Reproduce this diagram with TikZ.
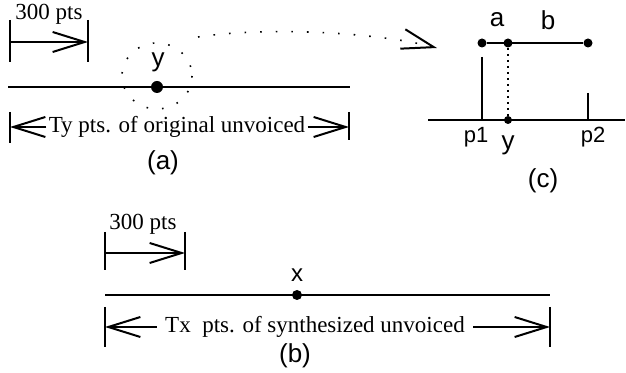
\documentclass[tikz,border=0pt]{standalone}
\usepackage{fontspec}
\setmainfont{Liberation Serif}
\newfontfamily\labfont{Liberation Sans}
\usetikzlibrary{arrows.meta}

\begin{document}
\begin{tikzpicture}[x=.5pt,y=-.5pt,line join=miter,
  barb/.style={-{Straight Barb[length=16pt,width=10pt,line width=1pt]},line width=1pt},
  axis/.style={line width=1.2pt},
  dots/.style={line width=.8pt,dash pattern=on .8pt off 7pt},
  dimtxt/.style={font=\fontsize{11.5}{13}\selectfont,inner sep=1pt},
  lab/.style={font=\labfont\fontsize{13}{15}\selectfont,inner sep=0pt},
  small/.style={font=\labfont\fontsize{11}{13}\selectfont,inner sep=0pt},
  paneltag/.style={font=\labfont\fontsize{13}{15}\selectfont,inner sep=0pt},
  pt/.style={circle,fill,inner sep=0pt,minimum size=#1},pt/.default=5pt]
  % vertical end mark: x, top, bottom
  \def\tk#1#2#3{\draw[line width=1pt] (#1,#2)--(#1,#3);}
  \useasboundingbox (0,0) rectangle (626,373);

  % (a) original unvoiced segment
  \tk{10}{20}{62}\tk{88}{20}{62}
  \coordinate (a3L) at (10,42); \coordinate (a3R) at (88,42);
  \draw[barb] (a3L) -- (a3R);
  \node[dimtxt] (a300) at (49,14) {300 pts};
  \coordinate (aS) at (8,87); \coordinate (aE) at (350,87);
  \draw[axis,line width=1.4pt] (aS) -- (aE);
  \node[pt=6pt] (ay) at (157,87) {};
  \node[lab] (aylab) at (158,62) {y};
  \draw[dots] (157,76) circle[x radius=35,y radius=33];
  \tk{10}{112}{143}\tk{349}{112}{140}
  \coordinate (tyL) at (10,127); \coordinate (tyR) at (349,127);
  \node[dimtxt] (tyt) at (177,127) {Ty pts. of original unvoiced};
  \draw[barb] (tyt.west) -- (tyL);
  \draw[barb] (tyt.east) -- (tyR);
  \node[paneltag] (taga) at (163,163) {(a)};

  % zoom into the neighbourhood of y
  \coordinate (zs) at (198,37); \coordinate (ze) at (437,48);
  \draw[barb,dots] (zs) .. controls (270,26) and (380,33) .. (ze);

  % (c) interpolation between p1 and p2
  \node[pt=4.5pt] (ca) at (482,43) {};
  \node[pt=4.5pt] (cy) at (508,43) {};
  \node[pt=4.5pt] (cb) at (588,43) {};
  \draw[axis] (ca) -- (cb);
  \node[lab] (la) at (497,20) {a};
  \node[lab] (lb) at (548,20) {b};
  \coordinate (cS) at (428,120); \coordinate (cE) at (625,120);
  \draw[axis] (cS) -- (cE);
  \coordinate (p1) at (482,120); \coordinate (p1t) at (482,57);
  \coordinate (p2) at (588,120); \coordinate (p2t) at (588,93);
  \draw[axis,line width=1.4pt] (p1t) -- (p1);
  \draw[axis] (p2t) -- (p2);
  \node[pt=4pt] (cyb) at (508,120) {};
  \draw[line width=.8pt,dash pattern=on 1pt off 2pt] (cy) -- (cyb);
  \node[small] (lp1) at (476,137) {p1};
  \node[lab] (lcy) at (508,145) {y};
  \node[small] (lp2) at (593,137) {p2};
  \node[paneltag] (tagc) at (543,181) {(c)};

  % (b) synthesized unvoiced segment
  \tk{105}{232}{270}\tk{185}{232}{270}
  \coordinate (b3L) at (105,253); \coordinate (b3R) at (185,253);
  \draw[barb] (b3L) -- (b3R);
  \node[dimtxt] (b300) at (143,224) {300 pts};
  \coordinate (bS) at (105,295); \coordinate (bE) at (550,295);
  \draw[axis] (bS) -- (bE);
  \node[pt=5pt] (bx) at (297,295) {};
  \node[lab,font=\labfont\fontsize{12}{14}\selectfont] (bxlab) at (297,275) {x};
  \tk{105}{307}{347}\tk{550}{307}{347}
  \coordinate (txL) at (105,327); \coordinate (txR) at (550,327);
  \node[dimtxt,inner sep=4pt] (txt) at (315,327) {Tx\ \ pts. of synthesized unvoiced};
  \draw[barb] (txt.west) -- (txL);
  \draw[barb] (txt.east) -- (txR);
  \node[paneltag] (tagb) at (295,356) {(b)};
\end{tikzpicture}
\end{document}
